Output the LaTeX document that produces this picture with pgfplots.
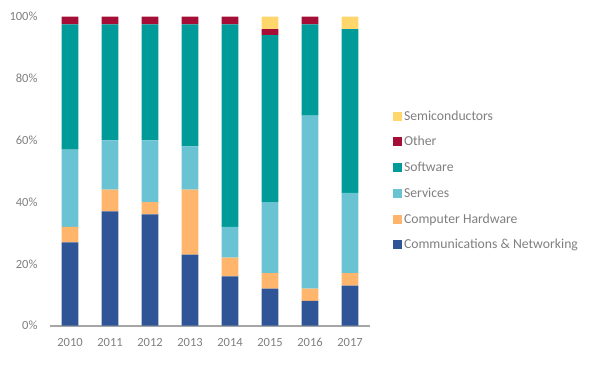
\documentclass[border=0pt]{standalone}
\usepackage{pgfplots}
\pgfplotsset{compat=1.18}
\usepackage{fontspec}
\setmainfont{Carlito}
\definecolor{comm}{HTML}{2F5597}
\definecolor{hw}{HTML}{FFB66C}
\definecolor{serv}{HTML}{69C3D2}
\definecolor{soft}{HTML}{009A98}
\definecolor{other}{HTML}{A50E37}
\definecolor{semi}{HTML}{FFD66B}
\definecolor{txtgray}{HTML}{7F7F7F}
\definecolor{axgray}{HTML}{A6A6A6}
\begin{document}
\begin{tikzpicture}
\useasboundingbox (0,0) rectangle (590bp,366bp);
\begin{axis}[
  at={(50bp,40.3bp)}, anchor=south west,
  scale only axis, width=320bp, height=309bp,
  xmin=-0.5, xmax=7.5, ymin=0, ymax=100,
  ybar stacked, bar width=16.7bp,
  axis x line*=bottom, axis y line*=left,
  y axis line style={draw=none},
  x axis line style={draw=axgray, line width=1.6bp, -},
  major tick length=0pt,
  xtick={0,...,7},
  xticklabels={2010,2011,2012,2013,2014,2015,2016,2017},
  ytick={0,20,...,100},
  yticklabel={\pgfmathprintnumber{\tick}\%},
  /pgf/number format/assume math mode=true,
  tick label style={font=\fontsize{12.5bp}{15bp}\selectfont, text=txtgray},
  yticklabel style={xshift=-9bp},
  xticklabel style={yshift=-9bp},
  clip=false,
  reverse legend,
  legend style={at={(1.072,0.47)}, anchor=west, draw=none, fill=none,
    inner sep=0pt, outer sep=0pt,
    font=\fontsize{13.7bp}{16bp}\selectfont, text=txtgray,
    row sep=10.8bp, legend cell align=left,
    /tikz/every even column/.append style={column sep=0pt}},
  legend image code/.code={\fill[#1] (0bp,-4.5bp) rectangle (9bp,4.5bp);},
]
\addplot[fill=comm, draw=none] coordinates {(0,27) (1,37) (2,36) (3,23) (4,16) (5,12) (6,8) (7,13)};
\addlegendentry{Communications \& Networking}
\addplot[fill=hw, draw=none] coordinates {(0,5) (1,7) (2,4) (3,21) (4,6) (5,5) (6,4) (7,4)};
\addlegendentry{Computer Hardware}
\addplot[fill=serv, draw=none] coordinates {(0,25) (1,16) (2,20) (3,14) (4,10) (5,23) (6,56) (7,26)};
\addlegendentry{Services}
\addplot[fill=soft, draw=none] coordinates {(0,40.5) (1,37.5) (2,37.5) (3,39.5) (4,65.5) (5,54) (6,29.5) (7,53)};
\addlegendentry{Software}
\addplot[fill=other, draw=none] coordinates {(0,2.5) (1,2.5) (2,2.5) (3,2.5) (4,2.5) (5,2) (6,2.5) (7,0)};
\addlegendentry{Other}
\addplot[fill=semi, draw=none] coordinates {(0,0) (1,0) (2,0) (3,0) (4,0) (5,4) (6,0) (7,4)};
\addlegendentry{Semiconductors}
\end{axis}
\end{tikzpicture}
\end{document}
